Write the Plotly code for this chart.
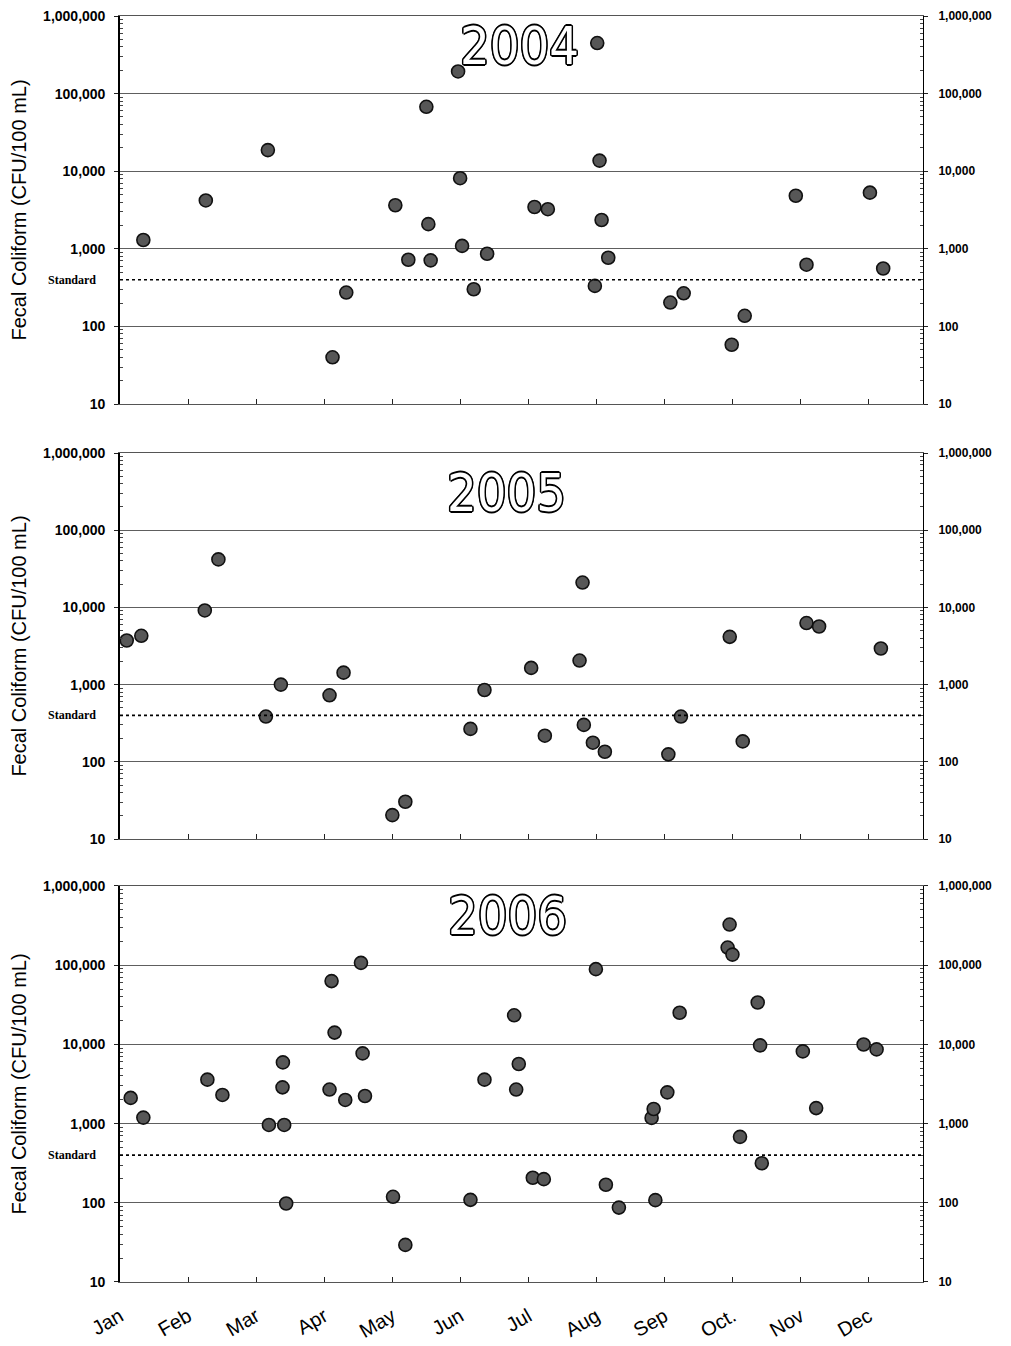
import plotly.graph_objects as go

# ---------------- data (x = position in months from Jan 1) ----------------
months = ["Jan", "Feb", "Mar", "Apr", "May", "Jun", "Jul", "Aug", "Sep", "Oct.", "Nov", "Dec"]
years = ["2004", "2005", "2006"]

x2004 = [0.343, 1.261, 2.173, 3.123, 3.325, 4.046, 4.237, 4.502, 4.531, 4.565,
         4.968, 4.998, 5.027, 5.198, 5.395, 6.091, 6.287, 6.978, 7.013, 7.047,
         7.077, 7.175, 8.087, 8.283, 8.989, 9.180, 9.931, 10.088, 11.020, 11.215]
y2004 = [1300, 4200, 18700, 40, 273, 3640, 723, 67600, 2080, 710,
         193000, 8130, 1090, 301, 863, 3460, 3240, 333, 448000, 13700,
         2350, 767, 203, 267, 58, 137, 4830, 624, 5290, 558]

x2005 = [0.099, 0.313, 1.246, 1.446, 2.144, 2.364, 3.079, 3.285, 4.002, 4.193,
         5.150, 5.356, 6.042, 6.243, 6.753, 6.797, 6.816, 6.949, 7.125, 8.058,
         8.243, 8.960, 9.151, 10.088, 10.273, 11.181]
y2005 = [3730, 4290, 9140, 41900, 386, 1000, 727, 1430, 20.4, 30.4,
         267, 851, 1646, 218, 2050, 21000, 301, 177, 135, 125,
         386, 4160, 184, 6270, 5660, 2940]

x2006 = [0.157, 0.343, 1.284, 1.505, 2.188, 2.394, 2.388, 2.413, 2.442, 3.079,
         3.109, 3.153, 3.310, 3.541, 3.565, 3.600, 4.012, 4.193, 5.150, 5.356,
         5.792, 5.822, 5.860, 6.066, 6.228, 6.993, 7.140, 7.331, 7.812, 7.842,
         7.867, 8.043, 8.224, 8.929, 8.958, 9.000, 9.111, 9.371, 9.406, 9.431,
         10.034, 10.230, 10.927, 11.118]
y2006 = [2110, 1190, 3590, 2300, 962, 5930, 2870, 962, 98, 2690,
         63000, 14100, 1990, 107000, 7700, 2230, 119, 29.4, 109, 3590,
         23300, 2690, 5650, 207, 199, 89100, 169, 87, 1180, 1530,
         108, 2480, 25100, 167000, 326000, 136000, 680, 33800, 9710, 316,
         8160, 1570, 9960, 8650]

standard = 400
y_tickvals = [10, 100, 1000, 10000, 100000, 1000000]
y_ticktext = ["10", "100", "1,000", "10,000", "100,000", "1,000,000"]
y_title = "Fecal Coliform (CFU/100 mL)"

# ---------------- layout geometry (page body has an 8px margin) ----------------
W, H = 1003, 1338
L, R, T, B = 112, 88, 8, 64
domains = [[0.6935, 1.0], [0.3499, 0.6548], [0.0, 0.3128]]
year_pos = [(0.497, 0.923), (0.481, 0.896), (0.483, 0.924)]
minor_vals = [m * 10 ** e for e in range(1, 6) for m in range(2, 10)]

SANS = "Liberation Sans, Arial, sans-serif"
NARROW = "Liberation Sans Narrow, Arial Narrow, DejaVu Sans Condensed, Liberation Sans, sans-serif"

xs = [x2004, x2005, x2006]
ys = [y2004, y2005, y2006]

fig = go.Figure()
layout = dict(
    width=W, height=H,
    margin=dict(l=L, r=R, t=T, b=B, autoexpand=False),
    paper_bgcolor="white", plot_bgcolor="white",
    showlegend=False,
    font=dict(family=SANS, color="black"),
)
shapes = []
annotations = []

for i in range(3):
    n = i + 1
    sfx = "" if n == 1 else str(n)
    rn = str(n + 3)
    fig.add_trace(go.Scatter(
        x=xs[i], y=ys[i], mode="markers",
        xaxis="x" + sfx, yaxis="y" + sfx,
        marker=dict(size=13, color="#575757", line=dict(color="#111111", width=1.6)),
        hoverinfo="skip", name=years[i],
    ))
    # invisible companion trace so the right-hand axis is drawn
    fig.add_trace(go.Scatter(
        x=xs[i], y=ys[i], mode="none",
        xaxis="x" + sfx, yaxis="y" + rn,
        hoverinfo="skip", showlegend=False,
    ))
    layout["xaxis" + sfx] = dict(
        domain=[0, 1], anchor="y" + sfx, range=[0, 11.8],
        tickmode="array", tickvals=list(range(12)), ticktext=months,
        ticks="inside", ticklen=5, tickcolor="#222", tickwidth=1,
        showticklabels=(n == 3), tickangle=-30,
        tickfont=dict(size=20, family=SANS), ticklabelstandoff=14,
        showline=True, linecolor="#555", linewidth=1, mirror=True,
        showgrid=False, zeroline=False, fixedrange=True, automargin=False,
    )
    layout["yaxis" + sfx] = dict(
        domain=domains[i], anchor="x" + sfx, type="log", range=[1, 6],
        tickmode="array", tickvals=y_tickvals, ticktext=y_ticktext,
        tickfont=dict(size=14, family=SANS, weight="bold"),
        ticks="outside", ticklen=4, tickcolor="#222", ticklabelstandoff=6,
        ticklabeloverflow="allow",
        minor=dict(tickmode="array", tickvals=minor_vals, ticks="inside",
                   ticklen=3, tickcolor="#444", showgrid=False),
        showgrid=True, gridcolor="#5e5e5e", gridwidth=1.1,
        showline=True, linecolor="black", linewidth=1.6,
        zeroline=False, fixedrange=True, automargin=False,
        title=dict(text=y_title, font=dict(size=20, family=SANS), standoff=14),
    )
    layout["yaxis" + rn] = dict(
        domain=domains[i], anchor="x" + sfx, overlaying="y" + sfx, side="right",
        type="log", range=[1, 6],
        tickmode="array", tickvals=y_tickvals, ticktext=y_ticktext,
        tickfont=dict(size=12, family=SANS, weight="bold"),
        ticks="outside", ticklen=4, tickcolor="#222", ticklabelstandoff=8,
        ticklabeloverflow="allow",
        minor=dict(tickmode="array", tickvals=minor_vals, ticks="inside",
                   ticklen=3, tickcolor="#444", showgrid=False),
        showgrid=False, showline=True, linecolor="black", linewidth=1,
        zeroline=False, fixedrange=True, automargin=False,
    )
    # standard line
    shapes.append(dict(
        type="line", xref="x" + sfx + " domain", x0=0, x1=1,
        yref="y" + sfx, y0=standard, y1=standard,
        line=dict(color="black", width=1.6, dash="dot"),
    ))
    annotations.append(dict(
        text="Standard", xref="paper", x=-0.028, xanchor="right",
        yref="y" + sfx, y=2.602, yanchor="middle", showarrow=False,
        font=dict(size=12, family="Liberation Serif, Times New Roman, serif", weight="bold"),
    ))
    annotations.append(dict(
        text=years[i], xref="x" + sfx + " domain", x=year_pos[i][0],
        yref="y" + sfx + " domain", y=year_pos[i][1],
        xanchor="center", yanchor="middle", showarrow=False,
        font=dict(size=52, family=NARROW, color="white",
                  shadow=("1.3px 1.3px 0 #000, -1.3px -1.3px 0 #000, 1.3px -1.3px 0 #000, "
                          "-1.3px 1.3px 0 #000, 1.6px 0 0 #000, -1.6px 0 0 #000, "
                          "0 1.6px 0 #000, 0 -1.6px 0 #000")),
    ))

layout["shapes"] = shapes
layout["annotations"] = annotations
fig.update_layout(**layout)
fig.write_html("out.html")
